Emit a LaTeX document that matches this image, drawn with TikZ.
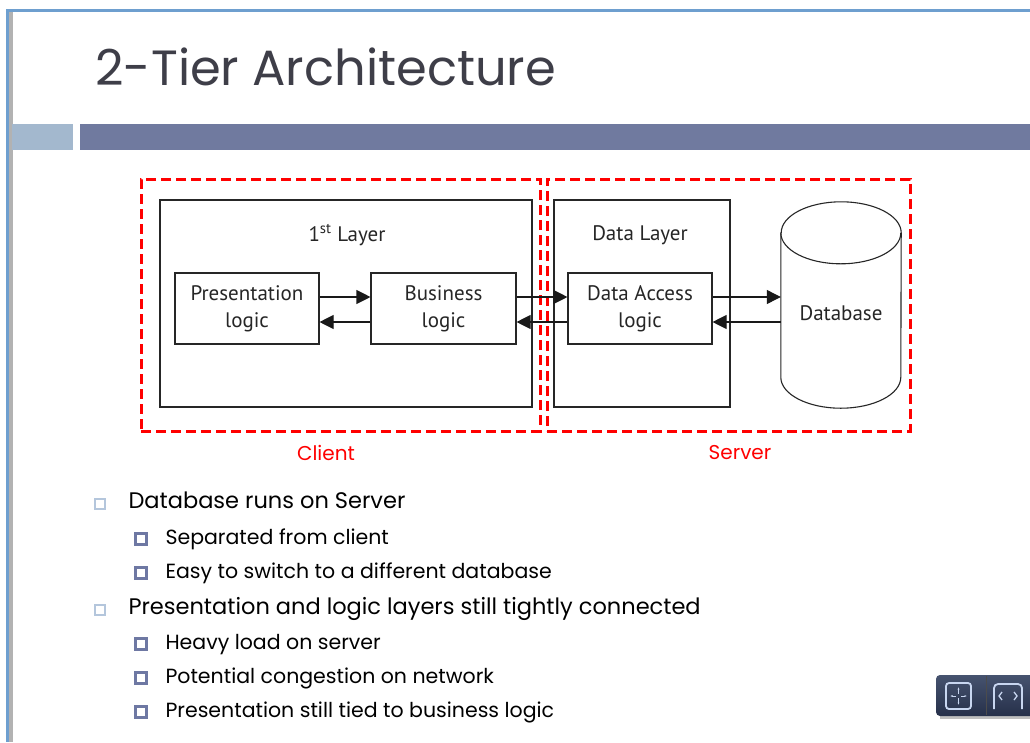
\documentclass[tikz,border=0pt]{standalone}
\usepackage{fontspec}
\setmainfont{Poppins}
\newfontfamily\dgfont{PT Sans}
\usetikzlibrary{arrows.meta,calc}
\definecolor{titlegrey}{HTML}{3E3E48}
\definecolor{framblue}{HTML}{6E9FCF}
\definecolor{barlight}{HTML}{A3B8CE}
\definecolor{bardark}{HTML}{707A9F}
\definecolor{bulletlight}{HTML}{B4C6DC}
\definecolor{bulletdark}{HTML}{6E78A3}
\definecolor{navdark}{HTML}{26304A}
\definecolor{navlight}{HTML}{46536F}
\definecolor{navicon}{HTML}{C8D6F0}
\begin{document}
\begin{tikzpicture}[x=1pt,y=-1pt,
  box/.style={draw=black!85, line width=1.1pt, fill=white, rectangle, inner sep=0pt},
  logic/.style={box, minimum width=144, minimum height=71,
    font=\dgfont\fontsize{21}{27}\selectfont, align=center, text=black!85},
  layer/.style={box, minimum width=#1, minimum height=207},
  zone/.style={draw=red, line width=3pt, dash pattern=on 10pt off 5pt, rectangle, inner sep=0pt},
  zonelabel/.style={text=red, font=\fontsize{20}{24}\selectfont},
  arr/.style={-{Triangle[length=14pt,width=14pt]}, line width=1.1pt, black!90},
  dglabel/.style={font=\dgfont\fontsize{21}{27}\selectfont, text=black!85},
  lvlone/.style={anchor=base west, font=\fontsize{22.5}{26}\selectfont, text=black},
  lvltwo/.style={anchor=base west, font=\fontsize{20.5}{24}\selectfont, text=black},
  hollowsq/.style={draw=bulletlight, line width=1.3pt, minimum size=10, inner sep=0pt},
  filledsq/.style={draw=bulletdark, fill=white, line width=3pt, minimum size=11, inner sep=0pt}
]
\useasboundingbox (0,0) rectangle (1030,742);
\fill[white] (0,0) rectangle (1030,742);

% slide frame
\fill[framblue] (6,9) rectangle (1030,12);
\fill[framblue] (6,9) rectangle (8.5,742);
\fill[black!30] (9,12) rectangle (13,742);

% title and header bars
\node[anchor=base west, text=titlegrey, font=\fontsize{49.5}{60}\selectfont] (title) at (92,85) {2-Tier Architecture};
\fill[barlight] (12,124) rectangle (73,150);
\fill[bardark] (80,124) rectangle (1030,150);

% client and server zones
\node[zone, minimum width=399, minimum height=252] (client) at (340.5,305) {};
\node[zone, minimum width=363, minimum height=252] (server) at (728.5,305) {};
\node[zonelabel] (clientlbl) at (326,453) {Client};
\node[zonelabel] (serverlbl) at (740,453) {Server};

% layers
\node[layer=372] (first) at (346,303.5) {};
\node[layer=176] (datalayer) at (642,303.5) {};
\node[dglabel] (firstlbl) at (347,235) {1\textsuperscript{st} Layer};
\node[dglabel] (datalbl) at (640,235) {Data Layer};

% logic blocks
\node[logic] (pres) at (247,308.5) {Presentation\\logic};
\node[logic, minimum width=145] (bus) at (443.5,308.5) {Business\\logic};
\node[logic] (dal) at (640,308.5) {Data Access\\logic};

% database cylinder
\node[minimum width=120, minimum height=206, inner sep=0pt] (db) at (841,305) {};
\draw[line width=1.1pt, black!85, fill=white]
  ($(db.north west)+(0,31)$) -- ($(db.south west)+(0,-31)$)
  arc (180:0:60 and 31) -- ($(db.north east)+(0,31)$)
  arc (0:-180:60 and 31) -- cycle;
\draw[line width=1.1pt, black!85] ($(db.north west)+(0,31)$) arc (180:0:60 and 31);
\node[dglabel] (dblbl) at (841,313) {Database};

% request / response arrows
\coordinate (up) at (0,297);
\coordinate (dn) at (0,322);
\draw[arr] (pres.east |- up) -- (bus.west |- up);
\draw[arr] (bus.west |- dn) -- (pres.east |- dn);
\draw[arr] (bus.east |- up) -- (dal.west |- up);
\draw[arr] (dal.west |- dn) -- (bus.east |- dn);
\draw[arr] (dal.east |- up) -- (db.west |- up);
\draw[arr] (db.west |- dn) -- (dal.east |- dn);

% bullet list
\node[hollowsq] (b1) at (100,504) {};
\node[lvlone] (t1) at (125,508) {Database runs on Server};
\node[filledsq] (b11) at (141,539) {};
\node[lvltwo] (t11) at (162,544) {Separated from client};
\node[filledsq] (b12) at (141,573) {};
\node[lvltwo] (t12) at (162,578) {Easy to switch to a different database};
\node[hollowsq] (b2) at (100,610) {};
\node[lvlone] (t2) at (125,614) {Presentation and logic layers still tightly connected};
\node[filledsq] (b21) at (141,644) {};
\node[lvltwo] (t21) at (162,649) {Heavy load on server};
\node[filledsq] (b22) at (141,678) {};
\node[lvltwo] (t22) at (162,683) {Potential congestion on network};
\node[filledsq] (b23) at (141,712) {};
\node[lvltwo] (t23) at (162,717) {Presentation still tied to business logic};

% navigation buttons
\fill[black!25] (940,679) rectangle (1030,719);
\shade[top color=navlight, bottom color=navdark, rounded corners=4pt] (936,675) rectangle (1034,716);
\draw[black!70, line width=0.8pt] (986,676) -- (986,715);
\draw[navicon, line width=1.8pt, rounded corners=3pt] (946,683) rectangle (971,709);
\draw[navicon, line width=1pt, -{Latex[length=2.5pt]}] (958.5,694) -- (958.5,687);
\draw[navicon, line width=1pt, -{Latex[length=2.5pt]}] (958.5,698) -- (958.5,705);
\draw[navicon, line width=1pt, -{Latex[length=2.5pt]}] (956,696) -- (950,696);
\draw[navicon, line width=1pt, -{Latex[length=2.5pt]}] (961,696) -- (967,696);
\draw[navicon, line width=1.8pt, rounded corners=4pt] (994,709) -- (994,684) -- (1022,684) -- (1022,709);
\draw[navicon, line width=1.3pt] (1002,692) -- (999,696) -- (1002,700);
\draw[navicon, line width=1.3pt] (1014,692) -- (1017,696) -- (1014,700);
\end{tikzpicture}
\end{document}
